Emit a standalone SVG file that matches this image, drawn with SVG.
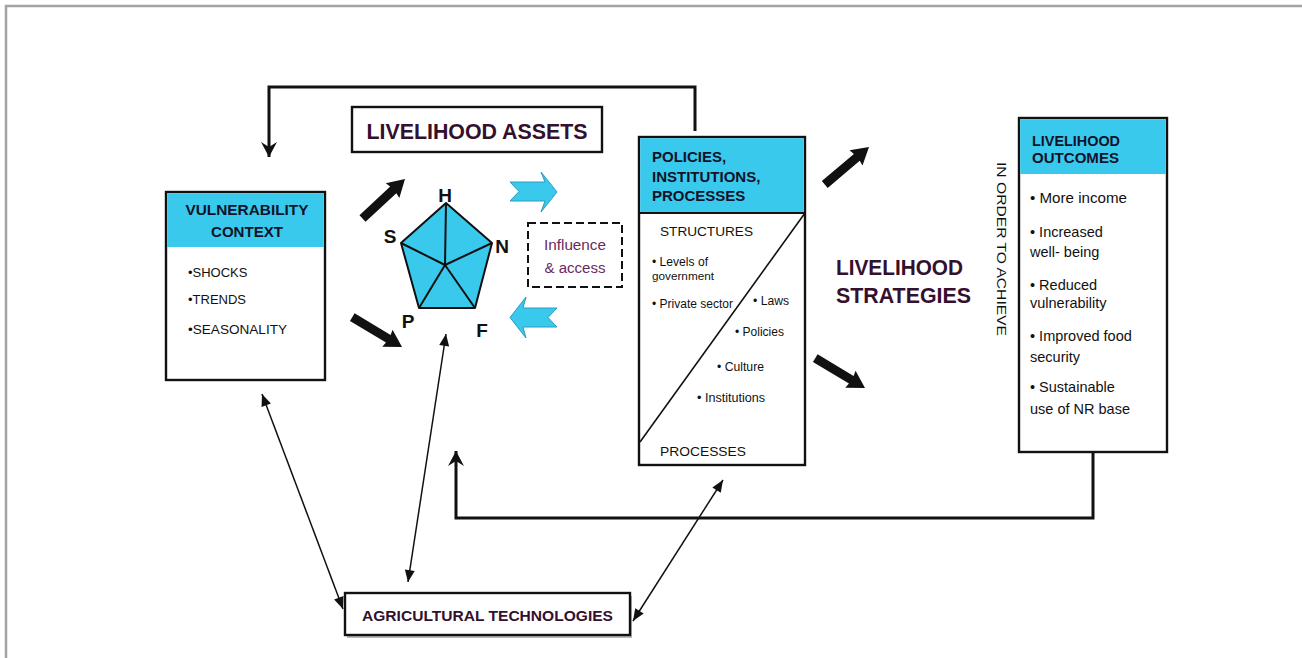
<svg xmlns="http://www.w3.org/2000/svg" xmlns:xlink="http://www.w3.org/1999/xlink" width="1302" height="658" viewBox="0 0 1302 658">
  <style>
    text { font-family: "Liberation Sans", Arial, sans-serif; }
    .box { fill: #ffffff; stroke: #111111; stroke-width: 2.4; }
    .head { fill: #38c9ec; stroke: none; }
    .hdr { font-weight: bold; fill: #12122a; }
    .item { fill: #111111; }
    .purple { font-weight: bold; fill: #34102e; }
    .mauve { fill: #6a2a60; }
    .letter { font-weight: bold; font-size: 19px; fill: #111111; }
    .feedback { fill: none; stroke: #111111; stroke-width: 3; }
    .thin { fill: none; stroke: #111111; stroke-width: 1.5; }
    .blockarrow { fill: #38c9ec; stroke: #2a9cc0; stroke-width: 1; }
    .thick { fill: #111111; }
  </style>
  <defs>
    <marker id="stealth" viewBox="-16 -9 18 18" markerWidth="18" markerHeight="18" refX="0" refY="0" orient="auto" markerUnits="userSpaceOnUse">
      <path d="M0,0 L-15,-8 L-10,0 L-15,8 Z" fill="#111111"/>
    </marker>
    <marker id="tip" viewBox="-13 -6 14 12" markerWidth="14" markerHeight="12" refX="0" refY="0" orient="auto-start-reverse" markerUnits="userSpaceOnUse">
      <path d="M0,0 L-12,-5 L-12,5 Z" fill="#111111"/>
    </marker>
    <!-- heavy black arrow, tip at origin, pointing along +x -->
    <path id="heavy" class="thick" d="M-58,-4.5 L-16,-4.5 L-17,-10 L0,0 L-17,10 L-16,4.5 L-58,4.5 Z"/>
  </defs>

  <rect x="0" y="0" width="1302" height="658" fill="#ffffff"/>
  <!-- frame edges -->
  <path d="M6,658 V6 H1302" fill="none" stroke="#a3a3a3" stroke-width="2.5"/>

  <!-- connectors -->
  <g id="connectors">
    <path class="feedback" d="M695,131 V87 H269 V157" marker-end="url(#stealth)"/>
    <path class="feedback" d="M1093,452 V518 H456 V451" marker-end="url(#stealth)"/>
    <path class="thin" d="M262,394 L343,609" marker-start="url(#tip)" marker-end="url(#tip)"/>
    <path class="thin" d="M446,334 L408,582" marker-start="url(#tip)" marker-end="url(#tip)"/>
    <path class="thin" d="M633,621 L723,480" marker-start="url(#tip)" marker-end="url(#tip)"/>
    <use xlink:href="#heavy" transform="translate(405,179) rotate(-42.9)"/>
    <use xlink:href="#heavy" transform="translate(402,347) rotate(31)"/>
    <use xlink:href="#heavy" transform="translate(869,147) rotate(-40.3)"/>
    <use xlink:href="#heavy" transform="translate(865,388) rotate(31)"/>
    <!-- cyan block arrows between assets and policies -->
    <path class="blockarrow" d="M510,182 L545,182 L541,172 L557,192 L541,212 L545,201 L510,201 L519,191.5 Z"/>
    <path class="blockarrow" d="M557,308 L523,308 L526,297 L510,317.5 L526,338 L523,327 L557,327 L548,317.5 Z"/>
  </g>

  <!-- vulnerability context -->
  <g id="vulnerability-context">
    <rect class="box" x="166" y="192" width="159" height="188"/>
    <rect class="head" x="167.2" y="193.2" width="156.6" height="53.8"/>
    <text class="hdr" x="247" y="215" font-size="15.5" text-anchor="middle" textLength="123" lengthAdjust="spacingAndGlyphs">VULNERABILITY</text>
    <text class="hdr" x="247" y="237" font-size="15.5" text-anchor="middle" textLength="72" lengthAdjust="spacingAndGlyphs">CONTEXT</text>
    <text class="item" x="188" y="277" font-size="13">•SHOCKS</text>
    <text class="item" x="188" y="304" font-size="13">•TRENDS</text>
    <text class="item" x="188" y="334" font-size="13" textLength="99" lengthAdjust="spacingAndGlyphs">•SEASONALITY</text>
  </g>

  <!-- livelihood assets title -->
  <g id="livelihood-assets">
    <rect class="box" x="352" y="107" width="250" height="45" stroke-width="2.5"/>
    <text class="purple" x="477" y="139" font-size="22" text-anchor="middle" textLength="221" lengthAdjust="spacingAndGlyphs">LIVELIHOOD ASSETS</text>
  </g>

  <!-- asset pentagon -->
  <g id="asset-pentagon">
    <polygon points="446,203 492,243 475,308 419,308 401,243" fill="#38c9ec" stroke="#111111" stroke-width="2" stroke-linejoin="round"/>
    <path d="M445,265 L446,203 M445,265 L492,243 M445,265 L475,308 M445,265 L419,308 M445,265 L401,243" stroke="#111111" stroke-width="2" fill="none"/>
    <text class="letter" x="445" y="202" text-anchor="middle">H</text>
    <text class="letter" x="390" y="243" text-anchor="middle">S</text>
    <text class="letter" x="502" y="253" text-anchor="middle">N</text>
    <text class="letter" x="408" y="328" text-anchor="middle">P</text>
    <text class="letter" x="482" y="337" text-anchor="middle">F</text>
  </g>

  <!-- influence and access -->
  <g id="influence-access">
    <rect x="528" y="223" width="94" height="64" fill="none" stroke="#111111" stroke-width="2" stroke-dasharray="8,4"/>
    <text class="mauve" x="575" y="250" font-size="14" text-anchor="middle" textLength="62" lengthAdjust="spacingAndGlyphs">Influence</text>
    <text class="mauve" x="575" y="273" font-size="14" text-anchor="middle" textLength="61" lengthAdjust="spacingAndGlyphs">&amp; access</text>
  </g>

  <!-- policies, institutions, processes -->
  <g id="policies-institutions-processes">
    <rect class="box" x="639" y="137" width="166" height="328"/>
    <rect class="head" x="640.2" y="138.2" width="163.6" height="74.8"/>
    <line x1="639" y1="213" x2="805" y2="213" stroke="#111111" stroke-width="2.2"/>
    <line x1="805" y1="213" x2="640" y2="442" stroke="#111111" stroke-width="1.6"/>
    <text class="hdr" x="652" y="162" font-size="15">POLICIES,</text>
    <text class="hdr" x="652" y="182" font-size="15">INSTITUTIONS,</text>
    <text class="hdr" x="652" y="201" font-size="15">PROCESSES</text>
    <text class="item" x="660" y="236" font-size="13.5" textLength="93" lengthAdjust="spacingAndGlyphs">STRUCTURES</text>
    <text class="item" x="652" y="266" font-size="12" textLength="56" lengthAdjust="spacingAndGlyphs">• Levels of</text>
    <text class="item" x="652" y="280" font-size="11" textLength="62" lengthAdjust="spacingAndGlyphs">government</text>
    <text class="item" x="652" y="308" font-size="12" textLength="81" lengthAdjust="spacingAndGlyphs">• Private sector</text>
    <text class="item" x="753" y="305" font-size="12" textLength="36" lengthAdjust="spacingAndGlyphs">• Laws</text>
    <text class="item" x="735" y="336" font-size="12" textLength="49" lengthAdjust="spacingAndGlyphs">• Policies</text>
    <text class="item" x="717" y="371" font-size="12" textLength="47" lengthAdjust="spacingAndGlyphs">• Culture</text>
    <text class="item" x="697" y="402" font-size="12" textLength="68" lengthAdjust="spacingAndGlyphs">• Institutions</text>
    <text class="item" x="660" y="456" font-size="13.5" textLength="86" lengthAdjust="spacingAndGlyphs">PROCESSES</text>
  </g>

  <!-- livelihood strategies -->
  <g id="livelihood-strategies">
    <text class="purple" x="836" y="275" font-size="22" textLength="127" lengthAdjust="spacingAndGlyphs">LIVELIHOOD</text>
    <text class="purple" x="836" y="303" font-size="22" textLength="135" lengthAdjust="spacingAndGlyphs">STRATEGIES</text>
  </g>

  <!-- in order to achieve -->
  <g id="in-order-to-achieve">
    <text class="item" transform="translate(997,162) rotate(90)" font-size="12.5" textLength="174" lengthAdjust="spacingAndGlyphs">IN ORDER TO ACHIEVE</text>
  </g>

  <!-- livelihood outcomes -->
  <g id="livelihood-outcomes">
    <rect class="box" x="1019" y="118" width="148" height="334"/>
    <rect class="head" x="1020.2" y="119.2" width="145.6" height="54.8"/>
    <text class="hdr" x="1032" y="146" font-size="14.5" textLength="88" lengthAdjust="spacingAndGlyphs">LIVELIHOOD</text>
    <text class="hdr" x="1032" y="163" font-size="14.5" textLength="87" lengthAdjust="spacingAndGlyphs">OUTCOMES</text>
    <text class="item" x="1030" y="203" font-size="14.5" textLength="97" lengthAdjust="spacingAndGlyphs">• More income</text>
    <text class="item" x="1030" y="237" font-size="14.5">• Increased</text>
    <text class="item" x="1030" y="257" font-size="14.5">well- being</text>
    <text class="item" x="1030" y="290" font-size="14.5">• Reduced</text>
    <text class="item" x="1030" y="308" font-size="14.5">vulnerability</text>
    <text class="item" x="1030" y="341" font-size="14.5">• Improved food</text>
    <text class="item" x="1030" y="362" font-size="14.5">security</text>
    <text class="item" x="1030" y="392" font-size="14.5">• Sustainable</text>
    <text class="item" x="1030" y="414" font-size="14.5">use of NR base</text>
  </g>

  <!-- agricultural technologies -->
  <g id="agricultural-technologies">
    <rect x="347" y="596" width="285" height="42" fill="#b8b8b8"/>
    <rect class="box" x="345" y="593" width="285" height="42"/>
    <text class="purple" x="487.5" y="621" font-size="15" text-anchor="middle" textLength="251" lengthAdjust="spacingAndGlyphs">AGRICULTURAL TECHNOLOGIES</text>
  </g>
</svg>
